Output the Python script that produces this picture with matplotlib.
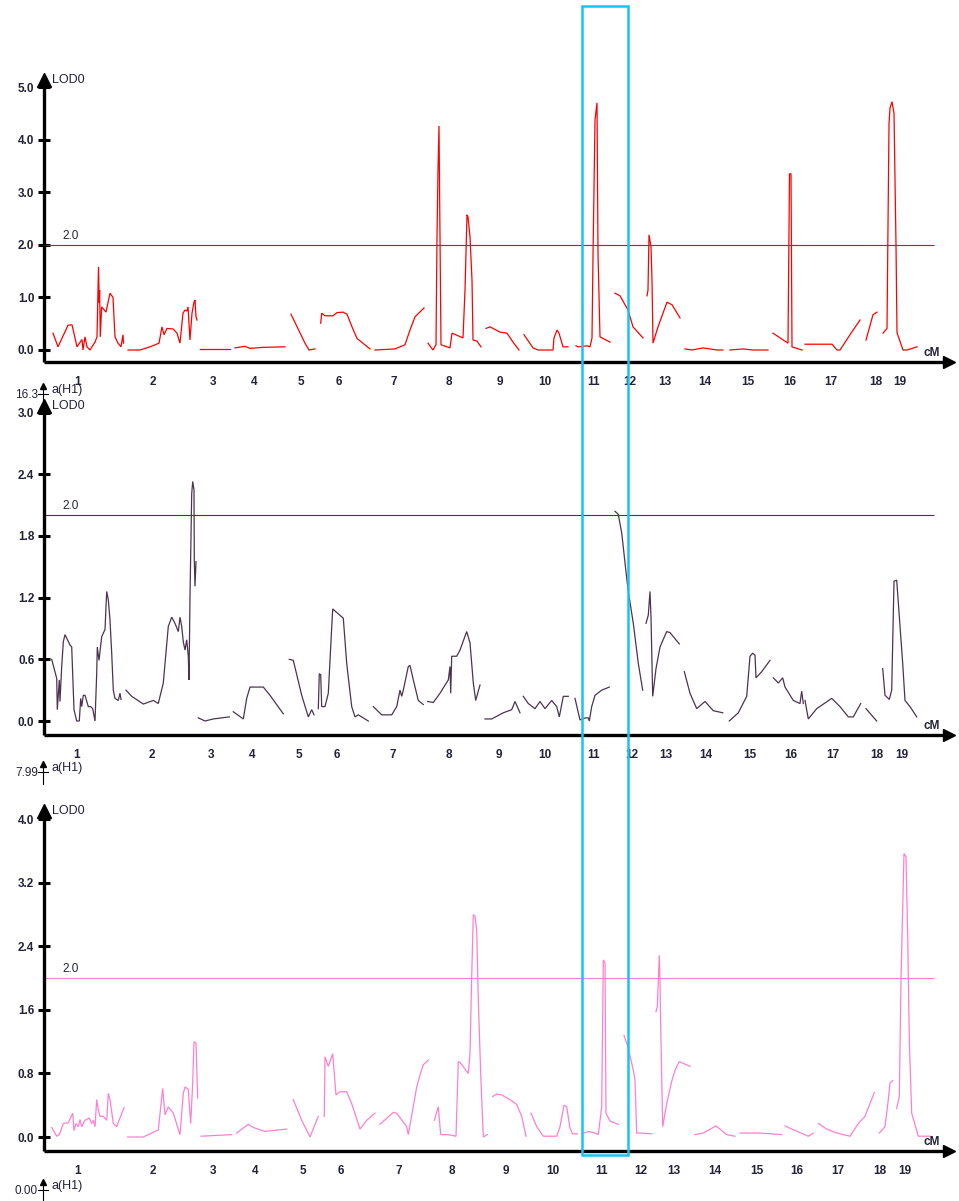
import matplotlib
matplotlib.use("Agg")
import matplotlib.pyplot as plt
from matplotlib.patches import Rectangle
from matplotlib.lines import Line2D

plt.rcParams['font.family'] = ['Liberation Sans', 'DejaVu Sans']

# ---- data: LOD profiles along the genome (map position units), one list per chromosome piece
chrom_names = [str(i) for i in range(1, 20)]
threshold = 2.0

# top trait (red)
top_pos = [78, 153, 213, 254, 301, 339, 394, 449, 500, 545, 594, 630, 665, 705, 748, 790, 831, 876, 900]
top_x = [
    [53, 58, 68, 72, 77, 82, 83, 85, 87, 90, 95, 97, 98.5, 99.2, 99.6, 100.3, 101.6, 106, 110, 113, 115, 118, 121, 123, 123.5],
    [128, 140, 150, 159, 162, 164, 167, 173, 177, 180, 183, 185, 187, 188, 190, 192, 194, 195, 196, 197],
    [200, 230],
    [235, 245, 250, 262, 285],
    [291, 305, 309, 315],
    [320.7, 321.7, 325, 333, 337, 343, 347, 352, 357, 370],
    [375, 395, 405, 410, 415, 424],
    [428, 433, 436, 437, 438, 439, 440, 441, 450, 452, 463, 465, 467, 468, 470, 472, 473, 477, 481],
    [486, 490, 500, 507, 513, 519],
    [524, 533, 538, 553, 554, 557, 559, 563, 568],
    [576, 578, 587, 590, 592, 593, 595, 597, 598, 600, 610],
    [615, 620, 628, 633, 643],
    [647, 648, 649, 651, 652, 653, 658, 667, 672, 680],
    [685, 692, 703, 717, 723],
    [730, 743, 753, 768],
    [773, 788, 789.5, 791, 792, 802],
    [805, 817, 832, 837, 840, 850, 860],
    [866, 873, 877],
    [883, 887, 889, 890, 892, 894, 896, 897, 903, 907, 917],
]
top_lod = [
    [0.32, 0.06, 0.47, 0.48, 0.06, 0.2, 0.0, 0.25, 0.06, 0.0, 0.15, 0.25, 1.58, 0.9, 1.14, 0.25, 0.82, 0.72, 1.08, 1.0, 0.25, 0.13, 0.06, 0.29, 0.13],
    [0.0, 0.0, 0.06, 0.13, 0.44, 0.29, 0.41, 0.40, 0.32, 0.13, 0.70, 0.76, 0.74, 0.82, 0.19, 0.70, 0.91, 0.95, 0.63, 0.57],
    [0.02, 0.02],
    [0.04, 0.07, 0.03, 0.05, 0.06],
    [0.68, 0.13, 0.0, 0.02],
    [0.51, 0.70, 0.65, 0.65, 0.71, 0.72, 0.68, 0.44, 0.22, 0.02],
    [0.0, 0.02, 0.10, 0.38, 0.63, 0.80],
    [0.13, 0.0, 0.10, 2.15, 3.42, 4.26, 2.15, 0.10, 0.04, 0.32, 0.23, 1.14, 2.57, 2.53, 2.15, 1.33, 0.19, 0.17, 0.06],
    [0.41, 0.44, 0.34, 0.32, 0.15, 0.0],
    [0.29, 0.04, 0.0, 0.0, 0.23, 0.38, 0.32, 0.06, 0.06],
    [0.08, 0.06, 0.08, 0.06, 0.23, 1.77, 4.37, 4.70, 1.84, 0.25, 0.15],
    [1.08, 1.03, 0.76, 0.44, 0.23],
    [1.03, 1.14, 2.19, 1.96, 1.33, 0.13, 0.44, 0.91, 0.86, 0.61],
    [0.02, 0.0, 0.04, 0.0, 0.0],
    [0.0, 0.02, 0.0, 0.0],
    [0.32, 0.13, 3.35, 3.35, 0.06, 0.0],
    [0.11, 0.11, 0.11, 0.0, 0.0, 0.29, 0.57],
    [0.19, 0.67, 0.72],
    [0.32, 0.41, 4.30, 4.60, 4.72, 4.50, 2.00, 0.33, 0.0, 0.0, 0.06],
]

# middle trait (dark purple)
mid_pos = [77, 152, 211, 252, 299, 337, 393, 449, 499, 545, 594, 632, 666, 706, 750, 791, 833, 877, 902]
mid_x = [
    [51.7, 56.7, 57.3, 59.3, 60, 61.7, 63.3, 65, 70, 71.7, 74, 76.7, 79.3, 80.7, 81.7, 83.3, 85, 88.3, 90.7, 92.7, 95, 96.7, 97.3, 99, 101.7, 105, 106.7, 108.3, 110, 111.7, 113.3, 115, 118.3, 120, 121],
    [126, 131.7, 143.3, 153.3, 158.3, 163.3, 168.3, 171.7, 175, 178.3, 180, 181.7, 183.3, 185, 186.7, 188.3, 189, 190, 191.7, 192.7, 194, 194.3, 195, 196],
    [198.3, 205, 213.3, 229.3],
    [233.3, 243.3, 246.7, 250, 263.3, 270, 283.3],
    [289.3, 293.3, 301.7, 308.3, 311.7, 314],
    [318.3, 319.3, 320.7, 321.7, 325, 328.3, 330, 332.7, 343.3, 346.7, 351.7, 355, 358.3, 368.3],
    [373.3, 381.7, 391.7, 396.7, 400, 401.7, 403.3, 408.3, 410, 413.3, 418.3, 423.3],
    [427.7, 433.3, 440, 448.3, 450, 450.7, 451.7, 456.7, 460, 466.7, 470, 473.3, 475.7, 480],
    [485, 491.7, 503.3, 511.7, 515, 520],
    [523.3, 528.3, 535, 540, 545, 551.7, 556.7, 559.3, 563.3, 568.3],
    [575, 580, 585, 588.3, 589.3, 591.7, 595, 601.7, 609.3],
    [615, 618.3, 621.7, 626.7, 628.3, 633.3, 638.3, 642.7],
    [646, 648.3, 650, 651, 652.7, 656, 660, 666.7, 670, 679.3],
    [684.3, 690, 696.7, 705, 713.3, 722.7],
    [729.3, 738.3, 746.7, 750, 752.7, 755, 756, 761.7, 770],
    [773.3, 778.3, 782.7, 785, 793.3, 800, 801.7, 803.3],
    [805, 808.3, 816.7, 831.7, 840, 848.3, 853.3, 860.7],
    [866, 876.7],
    [882.7, 885, 889.3, 891.7, 894, 896.7, 902.7, 905, 910, 916.7],
]
mid_lod = [
    [0.60, 0.415, 0.11, 0.40, 0.19, 0.53, 0.77, 0.84, 0.74, 0.72, 0.11, 0.0, 0.0, 0.22, 0.14, 0.25, 0.25, 0.14, 0.14, 0.12, 0.0, 0.46, 0.72, 0.59, 0.82, 0.89, 1.26, 1.18, 0.98, 0.66, 0.30, 0.22, 0.20, 0.27, 0.21],
    [0.30, 0.24, 0.165, 0.20, 0.17, 0.37, 0.92, 1.01, 0.95, 0.87, 1.01, 0.92, 0.77, 0.69, 0.79, 0.63, 0.40, 1.21, 2.21, 2.33, 2.25, 1.57, 1.31, 1.55],
    [0.03, 0.0, 0.02, 0.04],
    [0.09, 0.02, 0.22, 0.33, 0.33, 0.25, 0.07],
    [0.60, 0.59, 0.25, 0.04, 0.11, 0.06],
    [0.12, 0.46, 0.45, 0.14, 0.14, 0.27, 0.59, 1.09, 1.00, 0.56, 0.14, 0.04, 0.06, 0.0],
    [0.14, 0.06, 0.06, 0.14, 0.30, 0.24, 0.30, 0.53, 0.54, 0.40, 0.20, 0.16],
    [0.19, 0.18, 0.27, 0.40, 0.53, 0.27, 0.63, 0.63, 0.69, 0.87, 0.76, 0.37, 0.20, 0.35],
    [0.02, 0.02, 0.08, 0.11, 0.19, 0.08],
    [0.24, 0.17, 0.12, 0.19, 0.12, 0.20, 0.14, 0.04, 0.24, 0.24],
    [0.22, 0.01, 0.03, 0.03, 0.0, 0.14, 0.25, 0.30, 0.33],
    [2.04, 2.01, 1.83, 1.39, 1.26, 0.95, 0.56, 0.30],
    [0.95, 1.03, 1.26, 1.01, 0.24, 0.51, 0.72, 0.87, 0.86, 0.75],
    [0.48, 0.27, 0.12, 0.19, 0.10, 0.08],
    [0.0, 0.08, 0.24, 0.63, 0.66, 0.64, 0.42, 0.48, 0.59],
    [0.42, 0.37, 0.42, 0.33, 0.20, 0.17, 0.29, 0.17],
    [0.20, 0.02, 0.12, 0.22, 0.14, 0.04, 0.04, 0.17],
    [0.12, 0.0],
    [0.51, 0.25, 0.21, 0.30, 1.36, 1.37, 0.56, 0.20, 0.14, 0.04],
]

# bottom trait (pink)
bot_pos = [78, 153, 213, 255, 303, 341, 399, 452, 506, 553, 602, 641, 674, 715, 757, 797, 838, 880, 905]
bot_x = [
    [51.7, 56.7, 59.3, 63.3, 68.3, 72.7, 74, 76, 78.3, 80, 81.7, 85, 89.3, 91.7, 93.3, 95, 96.7, 98.3, 100, 103.3, 106.7, 108.3, 110, 113.3, 116.7, 120, 124],
    [127.7, 143.3, 158.3, 162.7, 165, 168.3, 173.3, 180, 183.3, 185, 188.3, 190.7, 192.7, 194, 196, 197.7],
    [201, 231.7],
    [236.7, 248.3, 253.3, 265, 286.7],
    [293.3, 301.7, 310, 318.3],
    [324.3, 325, 328.3, 332.7, 336, 340, 346.7, 351.7, 360, 366.7, 375],
    [380, 393.3, 396.7, 406.7, 408.3, 416.7, 420, 423.3, 428.3],
    [434.3, 438.3, 440.7, 448.3, 456, 458.3, 460, 468.3, 470, 471.7, 473.3, 475, 476.7, 478.3, 480.7, 483.3, 487.3],
    [492.7, 496.7, 501.7, 510, 516.7, 521.7, 526],
    [531, 536.7, 543.3, 556.7, 560, 564, 566.7, 570, 572.7, 577.3],
    [584, 588.3, 595, 598.3, 601.7, 603.3, 605, 606, 610, 618.3],
    [624, 628.3, 633.3, 635, 636.7, 640, 651.7],
    [656, 657.3, 659.3, 660, 660.7, 662.7, 666.7, 671.7, 675, 679.3, 690],
    [695, 703.3, 716, 726.7, 735],
    [740, 760, 781.7],
    [785, 791.7, 808.3, 813.3],
    [818.3, 826.7, 836.7, 850, 858.3, 865, 874.3],
    [879.3, 885, 888.3, 890, 892.7],
    [896.7, 899.3, 901, 904, 906, 907.7, 909.3, 911.7, 918.3, 930],
]
bot_lod = [
    [0.12, 0.01, 0.03, 0.17, 0.18, 0.30, 0.08, 0.17, 0.13, 0.22, 0.13, 0.21, 0.24, 0.17, 0.21, 0.13, 0.47, 0.34, 0.26, 0.26, 0.21, 0.55, 0.47, 0.17, 0.13, 0.24, 0.37],
    [0.0, 0.0, 0.09, 0.61, 0.28, 0.38, 0.30, 0.03, 0.55, 0.63, 0.60, 0.17, 0.68, 1.20, 1.18, 0.49],
    [0.01, 0.03],
    [0.05, 0.16, 0.12, 0.07, 0.10],
    [0.47, 0.21, 0.0, 0.26],
    [0.26, 1.01, 0.89, 1.05, 0.53, 0.57, 0.57, 0.42, 0.10, 0.21, 0.30],
    [0.16, 0.31, 0.30, 0.13, 0.03, 0.63, 0.78, 0.91, 0.97],
    [0.21, 0.38, 0.03, 0.03, 0.01, 0.95, 0.94, 0.80, 1.05, 2.02, 2.80, 2.78, 2.60, 1.73, 0.80, 0.0, 0.03],
    [0.51, 0.54, 0.53, 0.47, 0.41, 0.26, 0.01],
    [0.30, 0.13, 0.01, 0.01, 0.13, 0.40, 0.38, 0.11, 0.04, 0.04],
    [0.05, 0.07, 0.05, 0.03, 0.38, 2.23, 2.19, 0.30, 0.20, 0.16],
    [1.28, 1.12, 0.84, 0.72, 0.05, 0.05, 0.04],
    [1.58, 1.64, 2.29, 1.94, 1.39, 0.13, 0.42, 0.70, 0.84, 0.95, 0.89],
    [0.03, 0.05, 0.14, 0.03, 0.01],
    [0.05, 0.05, 0.03],
    [0.14, 0.10, 0.01, 0.05],
    [0.17, 0.10, 0.05, 0.01, 0.17, 0.26, 0.56],
    [0.05, 0.13, 0.47, 0.68, 0.71],
    [0.36, 0.51, 1.98, 3.57, 3.53, 2.52, 1.22, 0.30, 0.01, 0.01],
]

top_ticks = [0.0, 1.0, 2.0, 3.0, 4.0, 5.0]
mid_ticks = [0.0, 0.6, 1.2, 1.8, 2.4, 3.0]
bot_ticks = [0.0, 0.8, 1.6, 2.4, 3.2, 4.0]
effect_tops = ['16.3', '7.99', '0.00']

# ---- layout (pixel based, figure is 959 x 1201)
W, H = 959, 1201
TXT = '#22223a'
fig = plt.figure(figsize=(W / 100, H / 100), dpi=100)


def figxy(px, py):
    return px / W, 1 - py / H


def panel(ptop, pbot, zero_px, scale, axis_px, arrow_px, xs, ys, ticks, pos, color, lw):
    ax = fig.add_axes([0, 1 - pbot / H, 1, (pbot - ptop) / H])
    ax.set_facecolor('none')
    ax.set_xlim(0, W)
    ax.set_ylim((zero_px - pbot) / scale, (zero_px - ptop) / scale)
    axis_y = (zero_px - axis_px) / scale
    top_y = (zero_px - arrow_px) / scale
    for s in ['top', 'right']:
        ax.spines[s].set_visible(False)
    ax.spines['left'].set_position(('data', 44))
    ax.spines['left'].set_bounds(axis_y, top_y)
    ax.spines['bottom'].set_position(('data', axis_y))
    ax.spines['bottom'].set_bounds(44, 945)
    for s in ['left', 'bottom']:
        ax.spines[s].set_linewidth(2.4)
        ax.spines[s].set_capstyle('butt')
    ax.plot(44, top_y, marker='^', ms=10, color='black', clip_on=False)
    ax.plot(949, axis_y, marker='>', ms=8, color='black', clip_on=False)

    ax.set_yticks(ticks)
    ax.set_yticklabels(['%.1f' % t for t in ticks], fontweight='bold')
    ax.tick_params(axis='y', direction='inout', length=8, width=2.2,
                   labelsize=8.5, pad=3, labelcolor=TXT)
    ax.set_xticks(pos)
    ax.set_xticklabels(chrom_names, fontweight='bold')
    ax.tick_params(axis='x', length=0, labelsize=8.5, pad=10, labelcolor=TXT)

    for x, y in zip(xs, ys):
        ax.plot(x, y, color=color, lw=lw, solid_joinstyle='miter')
    ax.hlines(threshold, 44, 934, color=color, lw=0.8)
    ax.text(62, threshold + 3.0 / scale, '2.0', fontsize=8.5, color=TXT, va='bottom')
    ax.text(52, top_y, 'LOD0', fontsize=9, color=TXT, va='center', ha='left')
    ax.text(932, axis_y + 3.0 / scale, 'cM', fontsize=8.5, color=TXT, va='bottom', ha='center',
            fontweight='bold')
    return ax


panel(60, 372, 350, 52.6, 362, 80, top_x, top_lod, top_ticks, top_pos, '#ff0000', 0.9)
panel(398, 745, 721, 102.8, 735, 406, mid_x, mid_lod, mid_ticks, mid_pos, '#4e3350', 0.9)
panel(795, 1160, 1137, 79.4, 1151, 811, bot_x, bot_lod, bot_ticks, bot_pos, '#ff7fcf', 0.9)

# effect-axis stubs under each panel
for val, py in zip(effect_tops, [394, 772, 1190]):
    fig.text(*figxy(38, py + 1), val, fontsize=8.5, color=TXT, ha='right', va='center')
    fig.text(*figxy(51, py - 4), 'a(H1)', fontsize=9, color=TXT, ha='left', va='center')
    fig.add_artist(Line2D([43 / W, 43 / W], [1 - (py + 12) / H, 1 - (py - 8) / H],
                          transform=fig.transFigure, color='black', lw=0.8))
    fig.add_artist(Line2D([38 / W, 48 / W], [1 - py / H, 1 - py / H],
                          transform=fig.transFigure, color='black', lw=0.8))
    fig.add_artist(Line2D([43 / W], [1 - (py - 8) / H], marker='^', ms=4,
                          transform=fig.transFigure, color='black'))

# highlight box
fig.add_artist(Rectangle(figxy(582, 1155), 46 / W, 1149 / H, transform=fig.transFigure,
                         fill=False, ec='#19c3ef', lw=1.8))

fig.savefig('out.png', dpi=100)
